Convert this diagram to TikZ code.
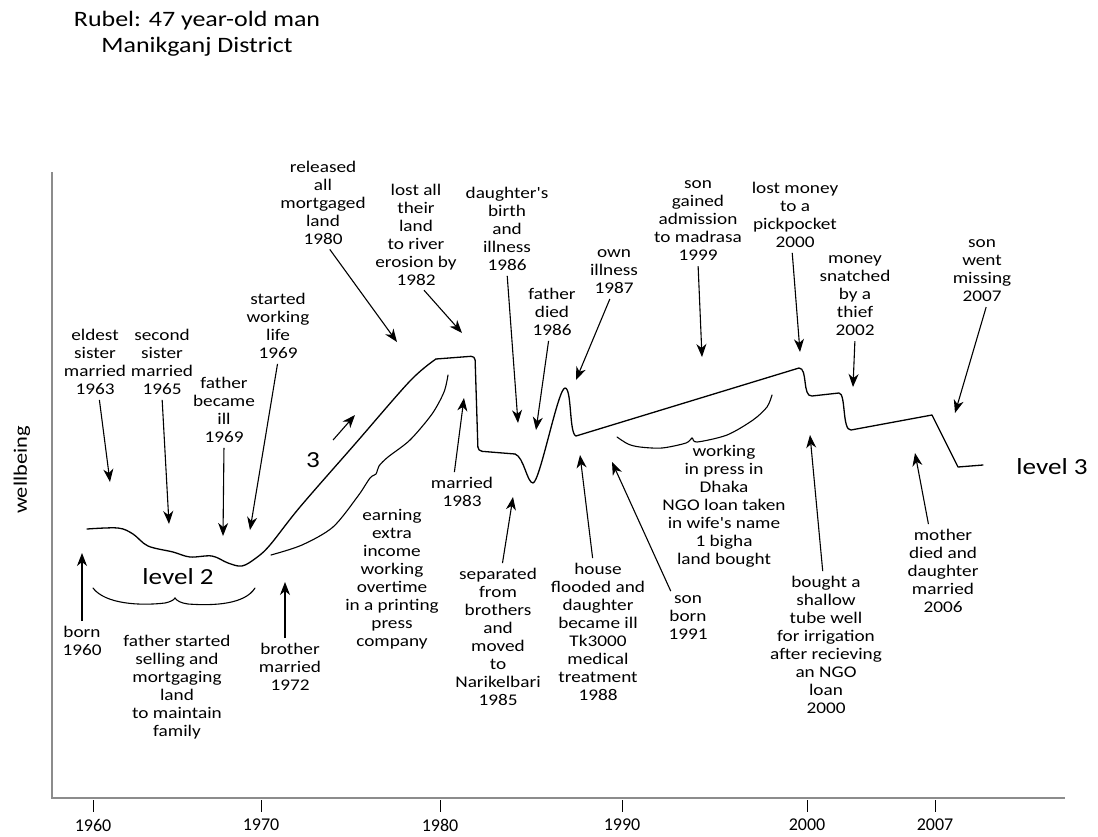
\documentclass[tikz,border=0pt]{standalone}
\usepackage{fontspec}
\setmainfont{Carlito}[FakeStretch=1.18,Ligatures=TeXOff]
\newfontfamily\axisfont{Carlito}
\usetikzlibrary{arrows.meta}
\begin{document}
\begin{tikzpicture}[x=1pt,y=-1pt,
  evt/.style={align=center,inner sep=2pt,font=\fontsize{16.3}{18}\selectfont},
  big/.style={inner sep=1pt,font=\fontsize{23}{26}\selectfont},
  arr/.style={-{Stealth[length=13pt,width=10pt,inset=4pt]},line width=1.1pt,shorten <=3pt},
  curve/.style={line width=1.3pt,line join=round,line cap=round},
  brace/.style={line width=1.1pt,line cap=round},
  axis/.style={draw=gray!90,line width=2.2pt}]
\useasboundingbox (0,0) rectangle (1098,836);
\node[align=center,font=\fontsize{22}{26}\selectfont](title) at (197,34){Rubel: 47 year-old man\\Manikganj District};
\node[rotate=90,font=\fontsize{19}{20}\selectfont](wb) at (22,470){wellbeing};
\draw[axis] (52,172) -- (52,798) -- (1065,798);
\foreach \x/\yr in {93/1960,261/1970,440/1980,622/1990,807/2000,935/2007}{
  \draw[line width=1pt] (\x,800) -- (\x,812);
  \node[inner sep=1pt,font=\axisfont\fontsize{18}{19}\selectfont](y\yr) at (\x,825){\yr};
}
% wellbeing curve
\draw[curve] plot[smooth,tension=0.55] coordinates {(87,529) (118,528) (133,534) (148,546) (173,552) (190,557) (212,556) (228,563) (242,566) (256,558) (270,545) (300,507) (355,444) (410,381) (436,359)};
\draw[curve,rounded corners=4pt] (436,359) -- (475,356) -- (478,451) -- (515,454);
\draw[curve] (515,454) .. controls (524,457) and (527,483) .. (533,483) .. controls (540,482) and (558,388) .. (565,388) .. controls (572,388) and (569,434) .. (576,436) -- (799,368) .. controls (808,368) and (802,397) .. (812,396) -- (839,393) .. controls (846,393) and (842,431) .. (851,430) -- (932,415) -- (958,467) -- (983,465);
% braces
\draw[brace] (93,588) .. controls (105,604) and (140,606) .. (165,603) .. controls (170,602) and (174,600) .. (175,598) .. controls (177,601) and (181,603) .. (188,604) .. controls (215,606) and (245,604) .. (255,588);
\draw[brace] plot[smooth,tension=0.5] coordinates {(271,555) (302,545) (333,527) (358,496) (370,478) (376,474) (379,466) (388,457) (410,440) (432,414) (444,392) (448,375)};
\draw[brace] plot[smooth,tension=0.5] coordinates {(617,437) (628,444) (640,447) (662,448) (686,443) (692,438) (697,442) (727,435) (753,420) (767,407) (772,395)};
\node[big](lvltwo) at (178,577){level 2};
\node[big](lvlthree) at (1052,467){level 3};
\node[big](three) at (313,460){3};
\coordinate (tThree) at (355,415);
\draw[arr] ([shift={(10,-9)}]three.north east) -- (tThree);
% events above the curve
\node[evt](eldest) at (95,362){eldest\\sister\\married\\1963};
\node[evt](second) at (162,362){second\\sister\\married\\1965};
\node[evt](fatherill) at (224,410){father\\became\\ill\\1969};
\node[evt](started) at (278,326){started\\working\\life\\1969};
\node[evt](released) at (323,203){released\\all\\mortgaged\\land\\1980};
\node[evt](erosion) at (416,235){lost all\\their\\land\\to river\\erosion by\\1982};
\node[evt](daughter) at (507,229){daughter's\\birth\\and\\illness\\1986};
\node[evt](fatherdied) at (552,312){father\\died\\1986};
\node[evt](ownill) at (614,272){own\\illness\\1987};
\node[evt](madrasa) at (698,221){son\\gained\\admission\\to madrasa\\1999};
\node[evt](pickpocket) at (795,215){lost money\\to a\\pickpocket\\2000};
\node[evt](thief) at (855,296){money\\snatched\\by a\\thief\\2002};
\node[evt](missing) at (982,271){son\\went\\missing\\2007};
\coordinate (tEldest) at (110,482);
\coordinate (tSecond) at (169,524);
\coordinate (tFatherill) at (223,536);
\coordinate (tStarted) at (250,530);
\coordinate (tReleased) at (397,342);
\coordinate (tErosion) at (462,333);
\coordinate (tDaughter) at (518,423);
\coordinate (tFatherdied) at (536,430);
\coordinate (tOwnill) at (576,380);
\coordinate (tMadrasa) at (702,357);
\coordinate (tPickpocket) at (800,352);
\coordinate (tThief) at (853,387);
\coordinate (tMissing) at (955,413);
\draw[arr] ([xshift=4pt]eldest.south) -- (tEldest);
\draw[arr] (second.south) -- (tSecond);
\draw[arr] (fatherill.south) -- (tFatherill);
\draw[arr] (started.south) -- (tStarted);
\draw[arr] ([xshift=5pt]released.south) -- (tReleased);
\draw[arr] ([xshift=6pt]erosion.south) -- (tErosion);
\draw[arr] (daughter.south) -- (tDaughter);
\draw[arr] ([xshift=-3pt]fatherdied.south) -- (tFatherdied);
\draw[arr] ([xshift=-3pt]ownill.south) -- (tOwnill);
\draw[arr] (madrasa.south) -- (tMadrasa);
\draw[arr] ([xshift=-3pt]pickpocket.south) -- (tPickpocket);
\draw[arr] (thief.south) -- (tThief);
\draw[arr] ([xshift=5pt]missing.south) -- (tMissing);
% events below the curve
\node[evt](born) at (82,641){born\\1960};
\node[evt](selling) at (177,687){father started\\selling and\\mortgaging\\land\\to maintain\\family};
\node[evt](brother) at (290,667){brother\\married\\1972};
\node[evt](married) at (462,492){married\\1983};
\node[evt](overtime) at (392,579){earning\\extra\\income\\working\\overtime\\in a printing\\press\\company};
\node[evt](separated) at (498,637){separated\\from\\brothers\\and\\moved\\to\\Narikelbari\\1985};
\node[evt](flooded) at (598,632){house\\flooded and\\daughter\\became ill\\Tk3000\\medical\\treatment\\1988};
\node[evt](sonborn) at (688,618){son\\born\\1991};
\node[evt](dhaka) at (724,506){working\\in press in\\Dhaka\\NGO loan taken\\in wife's name\\1 bigha\\land bought};
\node[evt](tubewell) at (826,645){bought a\\shallow\\tube well\\for irrigation\\after recieving\\an NGO\\loan\\2000};
\node[evt](mother) at (943,571){mother\\died and\\daughter\\married\\2006};
\coordinate (tBorn) at (82,553);
\coordinate (tBrother) at (285,582);
\coordinate (tMarried) at (464,398);
\coordinate (tSeparated) at (513,497);
\coordinate (tFlooded) at (580,455);
\coordinate (tSonborn) at (612,462);
\coordinate (tTubewell) at (810,435);
\coordinate (tMother) at (915,453);
\draw[arr] (born.north) -- (tBorn);
\draw[arr] ([xshift=-5pt]brother.north) -- (tBrother);
\draw[arr] ([xshift=-8pt]married.north) -- (tMarried);
\draw[arr] ([xshift=4pt]separated.north) -- (tSeparated);
\draw[arr] ([xshift=-5pt]flooded.north) -- (tFlooded);
\draw[arr] ([xshift=-16pt]sonborn.north) -- (tSonborn);
\draw[arr] ([xshift=-3pt]tubewell.north) -- (tTubewell);
\draw[arr] ([xshift=-14pt]mother.north) -- (tMother);
\end{tikzpicture}
\end{document}
